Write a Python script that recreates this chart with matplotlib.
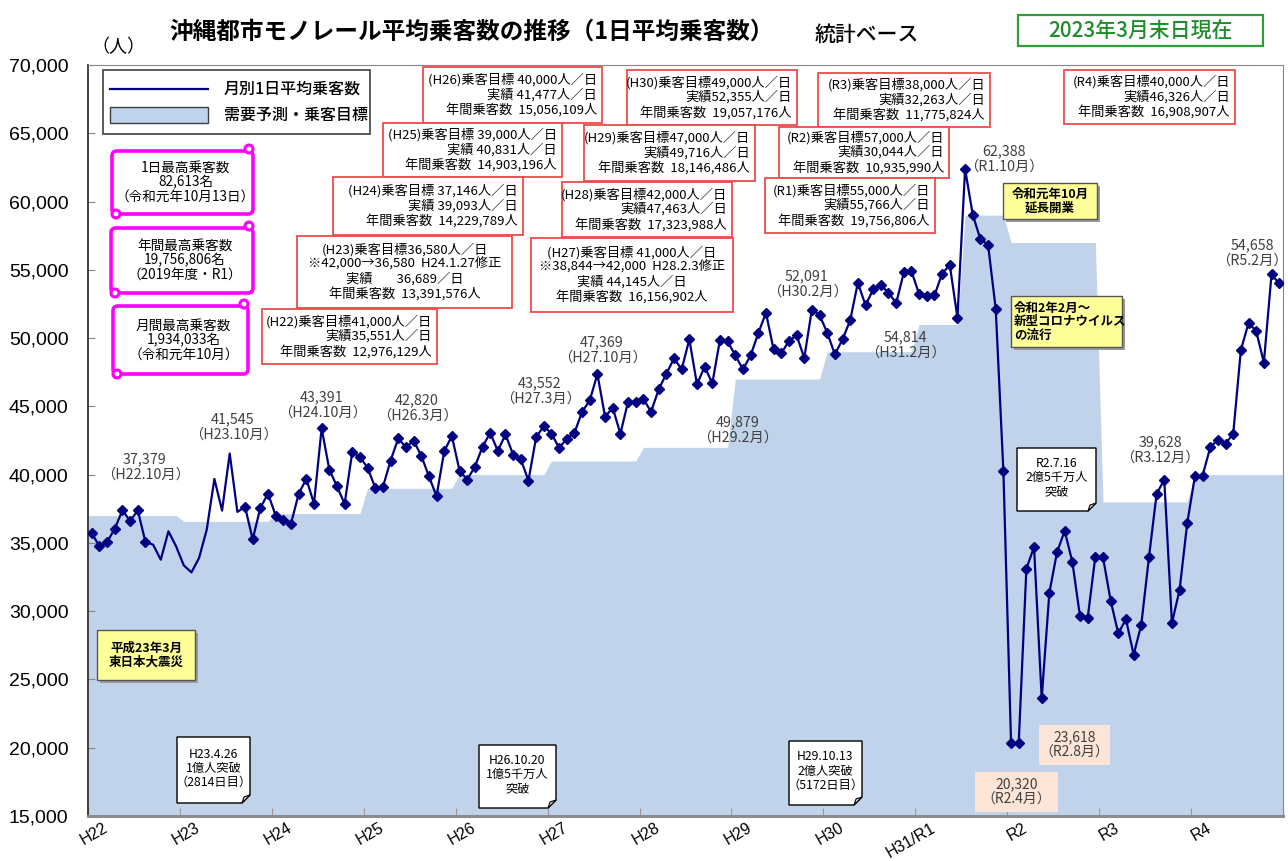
import numpy as np
import matplotlib.pyplot as plt
import matplotlib.transforms as mtransforms
from matplotlib.patches import Rectangle, FancyBboxPatch, Polygon, Ellipse
from matplotlib.lines import Line2D
from matplotlib.ticker import FuncFormatter

plt.rcParams['font.family'] = ['Noto Sans CJK JP', 'DejaVu Sans']

W, H = 1288, 861
NAVY = '#000080'
AREA = '#C0D3EA'
RED = '#EE4B4B'

# 月別1日平均乗客数 (H22.4 ～ R5.3), 年度ごとに12か月
years = ['H22', 'H23', 'H24', 'H25', 'H26', 'H27', 'H28', 'H29', 'H30', 'H31/R1', 'R2', 'R3', 'R4']
riders = [
    35700, 34750, 35070, 36050, 37390, 36610, 37379, 35070, 34870, 33770, 35850, 34750,  # H22
    33360, 32840, 33900, 35970, 39690, 37370, 41545, 37270, 37640, 35260, 37570, 38610,  # H23
    37000, 36660, 36410, 38590, 39690, 37880, 43391, 40370, 39150, 37860, 41670, 41300,  # H24
    40500, 39030, 39100, 41030, 42650, 42010, 42480, 41400, 39880, 38420, 41720, 42820,  # H25
    40300, 39640, 40570, 42040, 43060, 41740, 42940, 41470, 41110, 39570, 42740, 43552,  # H26
    43010, 41960, 42620, 43060, 44600, 45430, 47369, 44240, 44900, 42990, 45340, 45310,  # H27
    45560, 44600, 46240, 47390, 48510, 47710, 49910, 46610, 47910, 46680, 49879, 49760,  # H28
    48730, 47710, 48730, 50350, 51860, 49170, 48880, 49780, 50220, 48540, 52091, 51680,  # H29
    50400, 48800, 49910, 51300, 54060, 52400, 53570, 53870, 53330, 52550, 54814, 54900,  # H30
    53210, 53080, 53130, 54720, 55360, 51500, 62388, 59020, 57240, 56820, 52130, 40230,  # R1
    20320, 20350, 33110, 34700, 23618, 31350, 34320, 35880, 33610, 29620, 29500, 34000,  # R2
    33950, 30770, 28370, 29420, 26810, 29010, 33940, 38590, 39628, 29130, 31570, 36460,  # R3
    39880, 39930, 41990, 42570, 42280, 42990, 49120, 51100, 50520, 48200, 54658, 54000,  # R4
]
# 需要予測・乗客目標 (月別)
target = ([37000] * 12 + [36580] * 12 + [37146] * 12 + [39000] * 12 + [40000] * 12
          + [41000] * 12 + [42000] * 12 + [47000] * 12 + [49000] * 12
          + [51000] * 6 + [59000] * 6 + [57000] * 12 + [38000] * 12 + [40000] * 12)
no_marker = range(8, 20)   # マーカーが表示されていない区間

fig = plt.figure(figsize=(W / 100, H / 100), dpi=100)
ax = fig.add_axes([88 / W, 1 - 816 / H, (1283 - 88) / W, (816 - 65) / H])
# 画像ピクセル座標 (y下向き) 用の変換
PX = mtransforms.Affine2D().scale(1 / W, -1 / H).translate(0, 1) + fig.transFigure

x = np.arange(len(riders))
xa = np.concatenate([[-0.5], x, [len(x) - 0.5]])
ya = [target[0]] + target + [target[-1]]
ax.fill_between(xa, 0, ya, color=AREA, lw=0, zorder=1)
marks = [i for i in x if i not in no_marker]
ax.plot(x, riders, color=NAVY, lw=1.6, marker='D', ms=5.2, markevery=marks, zorder=3)

ax.set_xlim(-0.5, len(x) - 0.5)
ax.set_ylim(15000, 70000)
ax.set_yticks(range(15000, 70001, 5000))
ax.yaxis.set_major_formatter(FuncFormatter(lambda v, p: f'{int(v):,}'))
ax.tick_params(axis='y', direction='in', length=5, color='#888888', pad=14,
               labelsize=14, labelfontfamily='Liberation Sans')
ax.set_xticks(np.arange(0, len(x) + 1, 12) - 0.5)
ax.tick_params(axis='x', which='major', direction='in', length=6, color='#999999', labelbottom=False)
ax.set_xticks(np.arange(len(years)) * 12 + 1.5, minor=True)
ax.set_xticklabels(years, minor=True, rotation=30, ha='right', va='top', rotation_mode='anchor',
                   fontsize=11.5, family='Liberation Sans')
ax.tick_params(axis='x', which='minor', length=0, pad=3)
for s in ['top', 'right']:
    ax.spines[s].set_color('#888888')
ax.spines['left'].set_color('#333333')
ax.spines['left'].set_linewidth(1.3)
ax.spines['bottom'].set_color('#8c8c8c')
ax.spines['bottom'].set_linewidth(2.2)


def rect(x0, y0, x1, y1, fc='white', ec='black', lw=1.0, style=None, z=5):
    if style:
        p = FancyBboxPatch((x0, y0), x1 - x0, y1 - y0, boxstyle=style, fc=fc, ec=ec, lw=lw,
                           transform=PX, zorder=z)
    else:
        p = Rectangle((x0, y0), x1 - x0, y1 - y0, fc=fc, ec=ec, lw=lw, transform=PX, zorder=z)
    fig.add_artist(p)


def write(xp, yp, s, size=9.5, ha='center', ls=1.12, **kw):
    fig.text(xp, yp, s, transform=PX, ha=ha, va='center', multialignment=ha,
             fontsize=size, linespacing=ls, zorder=7, **kw)


# タイトル類
write(472, 32, '沖縄都市モノレール平均乗客数の推移（1日平均乗客数）', size=17, weight='bold')
write(867, 35, '統計ベース', size=15, weight='medium')
write(118, 47, '（人）', size=13)
rect(1018, 15, 1263, 46, ec='#2E9E3A', lw=1.6)
write(1140, 31, '2023年3月末日現在', size=15, color='#1E8C2A', weight='medium')

# 凡例
rect(103, 70, 370, 134, ec='#404040', lw=1.2)
fig.add_artist(Line2D([110, 208], [89, 89], color=NAVY, lw=1.6, transform=PX, zorder=6))
rect(110, 107, 208, 123, fc=AREA, ec='#404040', lw=1.0, z=6)
write(224, 89, '月別1日平均乗客数', size=11.5, ha='left', weight='medium')
write(224, 115, '需要予測・乗客目標', size=11.5, ha='left', weight='medium')

# 年度別目標・実績 (赤枠)
red_boxes = [
    ((423, 67, 602, 123), '(H26)乗客目標 40,000人／日\n実績 41,477人／日\n年間乗客数  15,056,109人', 'right'),
    ((627, 70, 797, 125), '(H30)乗客目標49,000人／日\n実績52,355人／日\n年間乗客数  19,057,176人', 'right'),
    ((818, 73, 990, 127), '(R3)乗客目標38,000人／日\n実績32,263人／日\n年間乗客数  11,775,824人', 'right'),
    ((1064, 70, 1235, 124), '(R4)乗客目標40,000人／日\n実績46,326人／日\n年間乗客数  16,908,907人', 'right'),
    ((383, 123, 562, 177), '(H25)乗客目標 39,000人／日\n実績 40,831人／日\n年間乗客数  14,903,196人', 'right'),
    ((584, 125, 755, 181), '(H29)乗客目標47,000人／日\n実績49,716人／日\n年間乗客数  18,146,486人', 'right'),
    ((779, 127, 949, 178), '(R2)乗客目標57,000人／日\n実績30,044人／日\n年間乗客数  10,935,990人', 'right'),
    ((333, 177, 523, 235), '(H24)乗客目標 37,146人／日\n実績 39,093人／日\n年間乗客数  14,229,789人', 'right'),
    ((562, 182, 732, 237), '(H28)乗客目標42,000人／日\n実績47,463人／日\n年間乗客数  17,323,988人', 'right'),
    ((765, 178, 935, 233), '(R1)乗客目標55,000人／日\n実績55,766人／日\n年間乗客数  19,756,806人', 'right'),
    ((297, 236, 512, 308), '(H23)乗客目標36,580人／日\n※42,000→36,580  H24.1.27修正\n実績        36,689／日\n年間乗客数  13,391,576人', 'center'),
    ((531, 238, 733, 312), '(H27)乗客目標 41,000人／日\n※38,844→42,000  H28.2.3修正\n実績 44,145人／日\n年間乗客数  16,156,902人', 'center'),
    ((262, 309, 437, 364), '(H22)乗客目標41,000人／日\n実績35,551人／日\n年間乗客数  12,976,129人', 'right'),
]
for (x0, y0, x1, y1), s, al in red_boxes:
    rect(x0, y0, x1, y1, ec=RED, lw=1.3)
    xt = x1 - 5 if al == 'right' else (x0 + x1) / 2
    write(xt, (y0 + y1) / 2, s, ha=al)

# 最高乗客数 (巻物枠)
scrolls = [
    ((112, 145, 253, 218), '1日最高乗客数\n82,613名\n（令和元年10月13日）'),
    ((111, 222, 253, 297), '年間最高乗客数\n19,756,806名\n（2019年度・R1）'),
    ((113, 300, 248, 378), '月間最高乗客数\n1,934,033名\n（令和元年10月）'),
]
for (x0, y0, x1, y1), s in scrolls:
    rect(x0, y0 + 6, x1, y1 - 4, ec='#FF00FF', lw=2.6, style='round,pad=0,rounding_size=5')
    for cx, cy in [(x1 - 4, y0 + 4), (x0 + 4, y1 - 4)]:
        fig.add_artist(Ellipse((cx, cy), 8, 8, fc='white', ec='#FF00FF', lw=2.2, transform=PX, zorder=6))
    write((x0 + x1) / 2 + 3, (y0 + y1) / 2 + 1, s, size=9.8, ls=1.05)

# 黄色の注記
yellow = [
    ((97, 630, 195, 680), '平成23年3月\n東日本大震災', 'center'),
    ((1003, 183, 1097, 219), '令和元年10月\n延長開業', 'center'),
    ((1011, 296, 1122, 347), '令和2年2月～\n新型コロナウイルス\nの流行', 'left'),
]
for (x0, y0, x1, y1), s, al in yellow:
    rect(x0 + 3, y0 + 3, x1 + 3, y1 + 3, fc='#9a9a9a', ec='none', z=4)
    rect(x0, y0, x1, y1, fc='#FFFF99', ec='#555555', lw=1.0)
    xt = x0 + 3 if al == 'left' else (x0 + x1) / 2
    write(xt, (y0 + y1) / 2, s, size=9, ha=al, weight='bold', ls=1.05)

# 累計乗客数の突破 (白い付箋)
notes = [
    ((177, 737, 250, 803), 'H23.4.26\n1億人突破\n（2814日目）'),
    ((479, 745, 556, 808), 'H26.10.20\n1億5千万人\n突破'),
    ((789, 741, 862, 805), 'H29.10.13\n2億人突破\n（5172日目）'),
    ((1017, 448, 1096, 511), 'R2.7.16\n2億5千万人\n突破'),
]
for (x0, y0, x1, y1), s in notes:
    f = 8
    fig.add_artist(Polygon([(x0, y0), (x1, y0), (x1, y1 - f), (x1 - f, y1), (x0, y1)],
                           closed=True, fc='white', ec='black', lw=1.0, transform=PX, zorder=5))
    fig.add_artist(Polygon([(x1, y1 - f), (x1 - f, y1), (x1 - f + 2, y1 - f + 2)],
                           closed=True, fc='#dddddd', ec='black', lw=0.8, transform=PX, zorder=6))
    write((x0 + x1) / 2, (y0 + y1) / 2 - 2, s, size=8.8, ls=1.1)

# 最低値 (薄橙)
for (x0, y0, x1, y1), s in [((975, 772, 1058, 812), '20,320\n（R2.4月）'),
                             ((1039, 725, 1110, 765), '23,618\n（R2.8月）')]:
    rect(x0, y0, x1, y1, fc='#FCE4D6', ec='none')
    write((x0 + x1) / 2, (y0 + y1) / 2, s, size=10, color='#404040', ls=1.2)

# ピーク値ラベル
peaks = [
    (145, 467, '37,379\n（H22.10月）'), (233, 427, '41,545\n（H23.10月）'),
    (322, 405, '43,391\n（H24.10月）'), (417, 408, '42,820\n（H26.3月）'),
    (540, 391, '43,552\n（H27.3月）'), (602, 350, '47,369\n（H27.10月）'),
    (738, 430, '49,879\n（H29.2月）'), (807, 284, '52,091\n（H30.2月）'),
    (905, 345, '54,814\n（H31.2月）'), (1004, 159, '62,388\n（R1.10月）'),
    (1160, 450, '39,628\n（R3.12月）'), (1252, 253, '54,658\n（R5.2月）'),
]
for xp, yp, s in peaks:
    write(xp, yp, s, size=10.3, color='#404040', ls=1.2)

fig.savefig('out.png', dpi=100)
